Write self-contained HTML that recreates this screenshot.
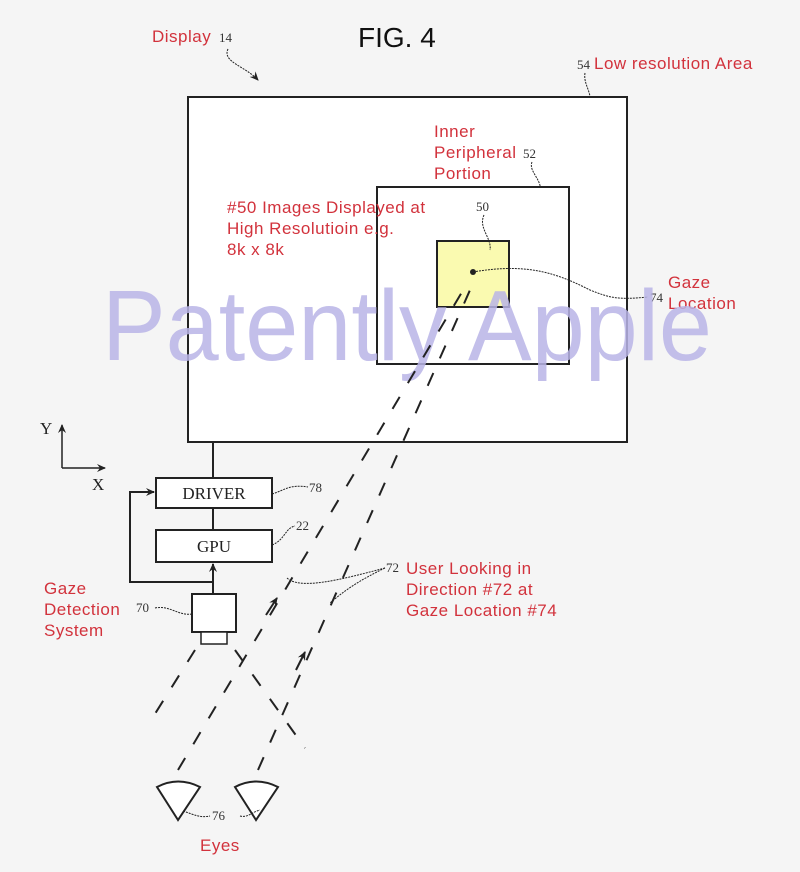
<!DOCTYPE html>
<html><head><style>
html,body{margin:0;padding:0;background:#f5f5f5;}
svg{display:block;}
.r{fill:#d2323c;font-family:"Liberation Sans",sans-serif;font-size:17px;letter-spacing:0.5px;}
.n{fill:#333;font-family:"Liberation Serif",serif;font-size:13px;}
.b{fill:#222;font-family:"Liberation Serif",serif;font-size:17px;}
</style></head><body>
<svg width="800" height="872" viewBox="0 0 800 872" xmlns="http://www.w3.org/2000/svg">
<defs><marker id="a" markerWidth="10" markerHeight="10" refX="8" refY="5" orient="auto" markerUnits="userSpaceOnUse"><path d="M0,1 L9,5 L0,9 L3,5z" fill="#222"/></marker></defs>
<rect x="0" y="0" width="800" height="872" fill="#f5f5f5"/>
<text x="358" y="47" font-family="Liberation Sans,sans-serif" font-size="28" fill="#111">FIG. 4</text>
<text x="152" y="42" class="r">Display</text><text x="219" y="42" class="n">14</text>
<path d="M228,49 C222,62 245,66 258,80" stroke="#222" fill="none" stroke-dasharray="2,1" marker-end="url(#a)"/>
<text x="577" y="69" class="n">54</text><text x="594" y="69" class="r">Low resolution Area</text>
<path d="M585,73 C583,85 593,92 590,108" stroke="#222" fill="none" stroke-dasharray="2,1"/>
<rect x="188" y="97" width="439" height="345" fill="#fff" stroke="#222" stroke-width="2"/>
<text x="434" y="137" class="r">Inner</text>
<text x="434" y="158" class="r">Peripheral</text><text x="523" y="158" class="n">52</text>
<text x="434" y="179" class="r">Portion</text>
<path d="M532,162 C528,172 544,180 540,195" stroke="#222" fill="none" stroke-dasharray="2,1"/>
<rect x="377" y="187" width="192" height="177" fill="#fff" stroke="#222" stroke-width="2"/>
<text x="227" y="213" class="r">#50 Images Displayed at</text>
<text x="227" y="234" class="r">High Resolutioin e.g.</text>
<text x="227" y="255" class="r">8k x 8k</text>
<rect x="437" y="241" width="72" height="66" fill="#fafab0" stroke="#222" stroke-width="2"/>
<text x="476" y="211" class="n">50</text>
<path d="M484,215 C478,228 492,238 490,250" stroke="#222" fill="none" stroke-dasharray="2,1"/>
<circle cx="473" cy="272" r="3" fill="#222"/>
<path d="M473,272 C530,262 560,275 590,290 C610,298 618,300 648,297" stroke="#222" fill="none" stroke-dasharray="2,1"/>
<text x="650" y="302" class="n">74</text>
<text x="668" y="288" class="r">Gaze</text><text x="668" y="309" class="r">Location</text>
<text x="102" y="360" font-family="Liberation Sans,sans-serif" font-size="100" textLength="610" lengthAdjust="spacingAndGlyphs" fill="#b8b4e6" fill-opacity="0.85">Patently Apple</text>
<path d="M62,468 L62,425" stroke="#222" stroke-width="1.5" marker-end="url(#a)"/>
<path d="M62,468 L105,468" stroke="#222" stroke-width="1.5" marker-end="url(#a)"/>
<text x="40" y="434" class="b">Y</text><text x="92" y="490" class="b">X</text>
<line x1="213" y1="442" x2="213" y2="478" stroke="#222" stroke-width="2"/>
<rect x="156" y="478" width="116" height="30" fill="#fff" stroke="#222" stroke-width="2"/>
<text x="214" y="499" class="b" text-anchor="middle">DRIVER</text>
<line x1="213" y1="508" x2="213" y2="530" stroke="#222" stroke-width="2"/>
<rect x="156" y="530" width="116" height="32" fill="#fff" stroke="#222" stroke-width="2"/>
<text x="214" y="552" class="b" text-anchor="middle">GPU</text>
<path d="M272,494 C285,490 290,484 308,487" stroke="#222" fill="none" stroke-dasharray="2,1"/>
<text x="309" y="492" class="n">78</text>
<path d="M272,545 C285,540 285,528 295,526" stroke="#222" fill="none" stroke-dasharray="2,1"/>
<text x="296" y="530" class="n">22</text>
<path d="M213,594 L213,564" stroke="#222" stroke-width="2" marker-end="url(#a)"/>
<path d="M213,582 L130,582 L130,492 L154,492" stroke="#222" stroke-width="2" fill="none" marker-end="url(#a)"/>
<rect x="192" y="594" width="44" height="38" fill="#fff" stroke="#222" stroke-width="2"/>
<rect x="201" y="632" width="26" height="12" fill="#fff" stroke="#222" stroke-width="1.5"/>
<text x="44" y="594" class="r">Gaze</text>
<text x="44" y="615" class="r">Detection</text><text x="136" y="612" class="n">70</text>
<text x="44" y="636" class="r">System</text>
<path d="M155,608 C170,605 178,616 192,614" stroke="#222" fill="none" stroke-dasharray="2,1"/>
<g stroke="#222" stroke-width="2" fill="none" stroke-dasharray="14,16">
<line x1="195" y1="650" x2="148" y2="725"/>
<line x1="235" y1="650" x2="305" y2="748"/>
<line x1="178" y1="770" x2="462" y2="292"/>
<line x1="258" y1="770" x2="470" y2="290"/>
</g>
<path d="M296,670 L305,652" stroke="#222" stroke-width="2" marker-end="url(#a)"/>
<path d="M266,615 L277,598" stroke="#222" stroke-width="2" marker-end="url(#a)"/>
<path d="M287,578 C300,590 340,580 385,568 M385,568 C360,580 345,590 330,603" stroke="#222" fill="none" stroke-dasharray="2,1"/>
<text x="386" y="572" class="n">72</text>
<text x="406" y="574" class="r">User Looking in</text>
<text x="406" y="595" class="r">Direction #72 at</text>
<text x="406" y="616" class="r">Gaze Location #74</text>
<path d="M178,820 L157,787 Q178,776 200,787 Z" fill="#fff" stroke="#222" stroke-width="2"/>
<path d="M256,820 L235,787 Q256,776 278,787 Z" fill="#fff" stroke="#222" stroke-width="2"/>
<path d="M183,811 C195,815 200,818 210,816 M240,816 C248,818 252,812 260,810" stroke="#222" fill="none" stroke-dasharray="2,1"/>
<text x="212" y="820" class="n">76</text>
<text x="200" y="851" class="r">Eyes</text>
</svg>
</body></html>
